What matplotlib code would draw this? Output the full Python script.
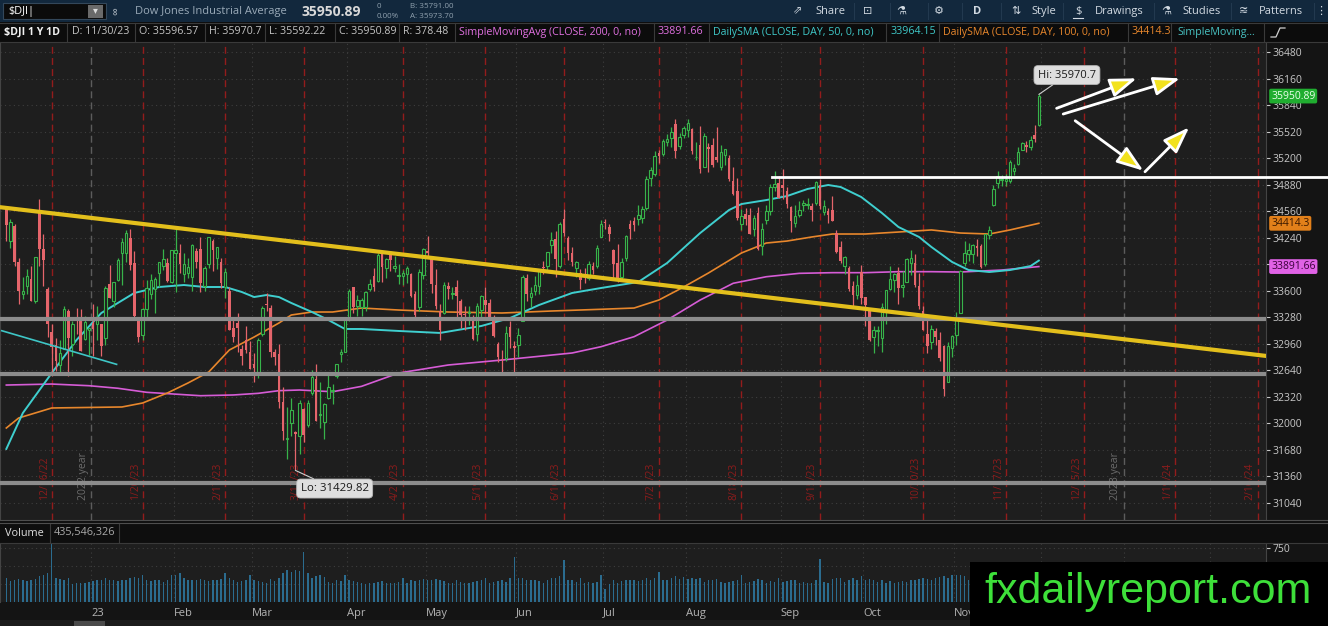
import matplotlib
matplotlib.use("Agg")
import matplotlib.pyplot as plt
from matplotlib.patches import Rectangle
import numpy as np
import pandas as pd

plt.rcParams['font.family'] = ['Open Sans', 'DejaVu Sans']

# $DJI daily candles 12/1/22 .. 11/30/23
opens = [34600,34200,34380,33950,33560,33660,33740,33480,34540,34100,33620,33100,32950,32700,32900,33350,32960,33260,33270,33020,33120,
         33210,33200,33200,33030,33680,33470,33730,34060,34050,34240,33930,33240,33070,33380,33560,33620,33820,33900,33930,33700,
         34050,34050,33800,33820,33760,34080,34100,33660,33920,34200,34000,33950,33640,33600,33150,33210,32900,33010,32860,
         32720,32590,33080,33440,33390,32860,32830,32260,31810,32000,31890,31840,32170,31980,32360,32530,32100,32010,32300,32390,32570,32830,32860,
         33260,33640,33420,33400,33400,33620,33780,33720,34060,33880,34060,33880,33780,33780,33800,33800,33560,33400,33790,
         34080,33990,33670,33360,33330,33660,33560,33650,33480,33320,33330,33270,33080,33370,33490,33450,33270,32960,32780,32790,33160,32930,
         32950,33230,33750,33530,33600,33660,33880,33900,34150,34230,33900,34470,34240,34050,33880,33820,33720,33750,33900,33900,34250,
         34420,34370,34090,33930,33760,33990,34410,34440,34470,34480,34600,34960,35010,35260,35250,35400,35440,35610,35350,35480,
         35540,35550,35210,35360,35100,35340,35360,35220,35100,35240,35200,34920,34800,34400,34530,34510,34340,34540,34140,34460,34560,34850,34900,
         34880,34810,34610,34420,34510,34630,34630,34620,34660,34880,34550,34560,34580,34300,34130,33900,33880,33660,33550,33830,
         33530,33350,33040,33110,33030,33350,33620,33730,33810,33650,33700,33940,33930,33660,33360,33080,32980,33110,33000,32930,32500,32910,
         33060,33330,33940,34040,34040,34140,34140,33920,34270,34640,34900,34940,34920,34930,35050,35130,35300,35360,35330,35480,35596.57]
highs = [34620,34465,34400,34000,33770,33860,33900,34005,34712,34280,33650,33200,33030,33000,33420,33380,33230,33390,33380,33300,33150,
         33440,33410,33200,33660,33910,33710,33990,34240,34330,34340,34080,33280,33390,33730,33800,33760,33950,34100,34000,34090,
         34340,34160,34050,33990,34160,34120,34250,33900,34250,34230,34130,34000,33870,33640,33280,33330,32950,33170,32990,
         32850,33030,33420,33570,33430,32900,32960,32440,32200,32300,31900,32280,32180,32280,32640,32720,32500,32250,32600,32470,32720,32900,33280,
         33620,33640,33550,33510,33600,33740,33870,34050,34080,33990,34080,34020,33920,33850,33900,33820,33600,33860,34120,
         34260,34010,33860,33440,33700,33710,33640,33730,33500,33420,33410,33310,33450,33550,33650,33500,33310,32980,32880,33180,33230,32990,
         33150,33790,33800,33650,33780,33850,33960,34070,34310,34320,34430,34590,34260,34130,33960,33860,33880,33960,33950,34150,34450,
         34470,34410,34100,34160,33990,34270,34450,34490,34630,34620,34990,35090,35290,35300,35430,35490,35580,35680,35510,35590,
         35680,35560,35400,35590,35510,35380,35450,35580,35360,35310,35240,35100,34960,34590,34600,34600,34510,34610,34420,34630,34890,35040,34980,
         35070,34850,34620,34630,34680,34690,34720,34660,34920,34950,34700,34600,34750,34330,34200,34020,33900,33720,33790,33910,
         33530,33390,33180,33170,33450,33610,33900,33810,33890,33840,34000,34090,34040,33820,33410,33250,33190,33150,33100,32950,32980,33060,
         33340,33850,34200,34180,34170,34230,34160,34290,34380,34880,35050,35000,35010,35180,35130,35340,35400,35410,35470,35600,35970.7]
lows = [34200,34120,33900,33440,33500,33560,33470,33450,33900,33660,33040,32570,32630,32580,32900,32570,32810,33080,32870,33010,32820,
        32810,33000,32810,32940,33510,33400,33720,33670,33950,33850,33280,32980,33000,33250,33500,33330,33650,33850,33700,33690,
        33580,33810,33700,33750,33600,33880,33580,33600,33880,33840,33860,33630,33510,33120,32980,32860,32700,32850,32650,
        32500,32540,33050,33360,32800,32700,32180,31800,31570,31850,31429.82,31630,31770,31950,32340,32030,31940,31810,32290,32230,32540,32740,32860,
        33230,33330,33290,33300,33350,33600,33600,33700,33700,33750,33840,33830,33680,33670,33690,33520,33260,33360,33740,
        34000,33570,33380,33000,33320,33500,33500,33280,33150,33120,33190,33000,32990,33280,33330,33250,33040,32740,32590,32750,32910,32590,
        32800,33230,33470,33400,33550,33560,33800,33830,34050,33770,33870,34260,33970,33900,33760,33620,33690,33730,33800,33880,34250,
        34340,34200,33730,33700,33720,33960,34230,34320,34390,34420,34570,34860,34990,35140,35230,35350,35330,35200,35310,35450,
        35460,35250,35180,35020,35100,35030,35100,35150,35060,35120,34920,34760,34460,34330,34390,34280,34260,34090,34030,34400,34520,34810,34720,
        34710,34600,34310,34370,34490,34560,34590,34440,34640,34590,34510,34420,34440,34060,33930,33800,33600,33400,33500,33440,
        33170,32990,32850,32930,32860,33200,33610,33590,33440,33530,33700,33790,33640,33380,33120,32850,32900,32950,32750,32330,32500,32800,
        32950,33330,33900,33960,33940,34020,33870,33900,34220,34620,34840,34860,34860,34900,35000,35120,35300,35280,35300,35400,35592.22]
closes = [34395,34430,33947,33596,33598,33781,33476,34005,34109,33966,33203,32920,32757,32850,33377,33027,33204,33241,32876,33221,33147,
          33136,33270,32930,33631,33518,33704,33973,34190,34303,33911,33297,33045,33375,33629,33734,33744,33949,33978,33717,34086,
          34093,33927,33926,33891,34156,33950,33699,33869,34246,34089,34128,33697,33827,33130,33045,33154,32817,32889,32657,
          32662,33004,33391,33432,32856,32798,32255,31910,31820,32155,31875,32247,31862,32245,32561,32030,32105,32238,32432,32394,32718,32859,33274,
          33601,33402,33483,33485,33587,33685,33646,34030,33887,33987,33977,33897,33787,33809,33876,33531,33302,33826,34098,
          34052,33684,33414,33128,33675,33619,33562,33531,33309,33301,33349,33012,33420,33535,33427,33286,33056,32800,32765,33093,33043,32908,
          33061,33763,33563,33573,33665,33834,33877,34066,34212,33979,34408,34299,34053,33952,33946,33727,33714,33927,33853,34122,34408,
          34418,34288,33922,33735,33944,34262,34347,34395,34509,34586,34952,35061,35225,35228,35411,35438,35520,35283,35459,35560,
          35630,35282,35216,35066,35474,35314,35124,35176,35281,35308,34946,34766,34475,34501,34464,34289,34473,34100,34347,34560,34853,34891,34722,
          34838,34642,34443,34501,34577,34664,34646,34576,34908,34619,34625,34518,34441,34070,33964,34007,33619,33551,33667,33508,
          33433,33002,33129,33120,33408,33605,33740,33805,33631,33671,33985,33998,33666,33415,33127,32937,33141,33036,32785,32418,32929,33053,
          33275,33839,34061,34096,34153,34112,33892,34283,34337,34828,34991,34945,34947,35151,35088,35273,35390,35333,35417,35430,35950.89]
# volume, millions of shares
volume = [330,290,300,320,310,290,300,320,360,380,400,820,330,320,300,330,250,260,270,260,280,
          290,300,310,330,310,300,290,300,300,330,350,330,380,300,290,300,310,280,310,380,
          370,400,330,310,300,310,320,300,290,300,310,320,400,330,300,280,290,300,380,
          300,290,280,270,320,290,330,400,440,420,450,430,700,400,330,360,380,350,280,270,300,290,380,
          310,290,280,270,250,260,270,280,290,270,260,270,280,330,260,300,290,300,320,
          300,310,320,310,290,260,270,300,280,270,260,280,290,300,330,260,280,290,300,280,330,620,
          340,330,300,300,310,290,270,300,330,330,360,580,310,300,280,330,270,280,260,280,370,
          180,250,300,270,290,300,310,300,290,300,340,310,330,420,300,310,330,360,320,350,
          320,330,320,330,280,300,300,320,280,260,280,290,300,380,270,280,290,320,310,260,290,280,330,
          280,290,300,300,260,280,270,270,300,600,280,270,320,330,330,280,310,330,300,360,
          310,320,300,280,300,260,290,270,280,290,280,300,300,320,340,320,310,330,350,360,340,380,
          380,370,360,310,300,280,290,300,260,380,340,330,320,260,240,250,150,260,280,300,435.5]
last_volume = 435546326

# study lines, sampled along the chart (trading day number, value)
sma200_day = [0,11,20,27,34,47,55,61,66,71,79,86,95,107,120,137,144,152,160,168,176,184,192,200,208,216,224,231,241,250]
sma200 = [32461,32473,32453,32422,32373,32332,32341,32361,32393,32401,32380,32445,32606,32703,32763,32848,32924,33045,33246,33488,
          33690,33769,33810,33818,33818,33830,33830,33826,33850,33891.66]
sma50_day = [0,4,11,17,23,31,37,43,48,53,57,60,63,66,69,74,78,82,86,95,105,115,122,129,137,144,153,160,168,175,
             178,184,189,194,199,202,207,212,216,221,224,229,233,238,243,248,250]
sma50 = [31689,32123,32606,33005,33331,33573,33645,33669,33645,33645,33585,33524,33548,33524,33452,33343,33246,33138,33138,33114,
         33090,33174,33271,33428,33573,33633,33705,33935,34297,34575,34647,34695,34743,34829,34877,34853,34732,34539,34370,34249,
         34128,33947,33850,33826,33850,33898,33964.15]
sma100_day = [0,3,11,28,33,39,44,49,54,60,66,69,74,79,86,95,107,120,132,144,152,158,164,170,178,184,189,195,200,208,216,224,231,238,243,250]
sma100 = [31942,32063,32184,32196,32244,32365,32486,32618,32884,33041,33210,33307,33343,33343,33391,33367,33343,33331,33355,33376,
          33391,33488,33645,33814,34056,34176,34200,34249,34285,34285,34309,34334,34297,34285,34334,34414.3]

holidays = ['2022-12-26', '2023-01-02', '2023-01-16', '2023-02-20', '2023-04-07', '2023-05-29', '2023-06-19',
            '2023-07-04', '2023-09-04', '2023-11-23', '2023-12-25', '2024-01-01', '2024-01-15', '2024-02-19']
expiry_dates = ['2022-12-16', '2023-01-20', '2023-02-17', '2023-03-17', '2023-04-21', '2023-05-19', '2023-06-16',
                '2023-07-21', '2023-08-18', '2023-09-15', '2023-10-20', '2023-11-17', '2023-12-15', '2024-01-19', '2024-02-16']

# user drawings
gray_levels = [33255, 32590, 31278]
white_level = 34975
white_from = 185.5
trend_a, trend_b = (0, 34600), (250, 33135)
short_line = ([-1.1, 26.7], [33117, 32711])
arrows = [((254.3, 35803), (273.7, 36165)),
          ((255.9, 35734), (284.2, 36165)),
          ((258.8, 35653), (275.3, 35050)),
          ((275.7, 35037), (286.4, 35574))]

W, H = 1328, 626
fig = plt.figure(figsize=(W / 100, H / 100), dpi=100, facecolor='#141414')


def box(x0, y0, x1, y1):
    return [x0 / W, 1 - y1 / H, (x1 - x0) / W, (y1 - y0) / H]


dates = pd.bdate_range('2022-12-01', '2024-02-29', freq='C', holidays=holidays)
day_of = {d: i for i, d in enumerate(dates)}
n = len(closes)
x = np.arange(n)

bounds, mlabels, year_bounds = [], [], []
for i in range(1, len(dates)):
    if dates[i].month != dates[i - 1].month:
        bounds.append(i - 0.5)
        if dates[i].month == 1:
            mlabels.append(str(dates[i].year)[2:])
            year_bounds.append((i - 0.5, dates[i - 1].year))
        else:
            mlabels.append(dates[i].strftime('%b'))

dot = (0, (1, 3))
grid_c = '#3e3e3e'

# ---- price panel ----
ax = fig.add_axes(box(0, 42, 1266, 520))
ax.set_facecolor('#1e1e1e')
ax.set_xlim(-1.53, 305.0)
ax.set_ylim(30831, 36604)
price_ticks = np.arange(31040, 36481, 320)
ax.yaxis.tick_right()
ax.set_yticks(price_ticks, [str(p) if p != 33920 else '' for p in price_ticks])
ax.tick_params(axis='y', colors='#c8c8c8', labelsize=7.5, length=3, pad=2, width=0.8)
ax.tick_params(axis='x', bottom=False, labelbottom=False)
for s in ['top', 'bottom']:
    ax.spines[s].set_visible(False)
for s in ['left', 'right']:
    ax.spines[s].set_color('#444444')

for p in price_ticks:
    ax.axhline(p, color=grid_c, lw=0.8, ls=dot, zorder=0)
year_x = [b for b, _ in year_bounds]
for b in bounds:
    if b not in year_x:
        ax.axvline(b, color=grid_c, lw=0.8, ls=dot, zorder=0)

for d in expiry_dates:
    t = pd.Timestamp(d)
    xi = day_of[t]
    ax.axvline(xi, color='#931c1c', lw=1, ls=(0, (5, 3)), zorder=1)
    ax.text(xi - 0.5, 31075, f"{t.month}/{t.day}/{t:%y}", rotation=90, ha='right', va='bottom',
            fontsize=7.5, color='#8c1c1c', zorder=1)
for b, yr in year_bounds:
    ax.axvline(b, color='#5c5c5c', lw=1, ls=(0, (5, 3)), zorder=1)
    ax.text(b - 0.5, 31075, f"{yr} year", rotation=90, ha='right', va='bottom',
            fontsize=7.5, color='#6c6c6c', zorder=1)

ax.plot(sma200_day, sma200, color='#d65cd6', lw=1.2, zorder=2)
ax.plot(sma100_day, sma100, color='#e8872c', lw=1.2, zorder=2)
ax.plot(sma50_day, sma50, color='#3fcfcf', lw=1.4, zorder=2)

o, hi, lo, c = map(np.array, (opens, highs, lows, closes))
up = c >= o
up_c, dn_c = '#37b34a', '#e5656b'
ax.vlines(x, lo, hi, colors=np.where(up, up_c, dn_c), lw=0.9, zorder=3)
body_lo = np.minimum(o, c)
body_h = np.maximum(np.abs(c - o), 8)
ax.bar(x[up], body_h[up], bottom=body_lo[up], width=0.62, facecolor='#1e1e1e', edgecolor=up_c, lw=0.8, zorder=4)
ax.bar(x[~up], body_h[~up], bottom=body_lo[~up], width=0.62, color=dn_c, lw=0, zorder=4)

for lv in gray_levels:
    ax.axhline(lv, color='#8c8c8c', lw=3, zorder=5)
ax.axline(trend_a, trend_b, color='#e3bf1c', lw=3, zorder=5)
ax.plot(*short_line, color='#3ec6c6', lw=1.2, zorder=5)
ax.plot([white_from, 330], [white_level, white_level], color='white', lw=2, zorder=5, clip_on=False)

for (x0, y0), (x1, y1) in arrows:
    ax.annotate('', xy=(x1, y1), xytext=(x0, y0), zorder=6,
                arrowprops=dict(arrowstyle='-|>,head_length=0.9,head_width=0.32', lw=2, ec='white',
                                fc='#f2e21e', mutation_scale=18, shrinkA=0, shrinkB=0))

lbl_box = dict(boxstyle='round,pad=0.35', fc='#dedede', ec='#b8b8b8', lw=0.6)
ax.annotate(f"Hi: {max(highs)}", xy=(int(np.argmax(hi)), max(highs)), xytext=(256.8, 36205),
            ha='center', va='center', fontsize=8, color='#1a1a1a', bbox=lbl_box, zorder=7,
            arrowprops=dict(arrowstyle='-', color='#cfcfcf', lw=0.8, shrinkA=0, shrinkB=0))
ax.annotate(f"Lo: {min(lows)}", xy=(int(np.argmin(lo)), min(lows)), xytext=(79.5, 31211),
            ha='center', va='center', fontsize=8.2, color='#1a1a1a', bbox=lbl_box, zorder=7,
            arrowprops=dict(arrowstyle='-', color='#cfcfcf', lw=0.8, shrinkA=0, shrinkB=0))

tr = ax.get_yaxis_transform()
for val, txt, fc, tc in [(closes[-1], f"{closes[-1]}", '#20ad30', '#eaffea'),
                         (sma100[-1], f"{sma100[-1]}", '#e2801a', '#3a1800'),
                         (sma200[-1], f"{sma200[-1]}", '#e062e6', '#3a003a')]:
    ax.text(1.004, val, txt, transform=tr, ha='left', va='center', fontsize=7.5, color=tc, clip_on=False,
            bbox=dict(boxstyle='round,pad=0.18', fc=fc, ec='none'), zorder=8)

# ---- volume panel ----
axv = fig.add_axes(box(0, 543, 1266, 602))
axv.set_facecolor('#1e1e1e')
axv.set_xlim(ax.get_xlim())
axv.set_ylim(0, 819)
axv.bar(x, volume, width=0.35, color='#2b6c8f', zorder=2)
for v in (250, 500, 750):
    axv.axhline(v, color=grid_c, lw=0.8, ls=dot, zorder=0)
for b in bounds:
    axv.axvline(b, color=grid_c, lw=0.8, ls=dot, zorder=0)
axv.yaxis.tick_right()
axv.set_yticks([750])
axv.tick_params(axis='y', colors='#c8c8c8', labelsize=7.5, length=3, pad=2, width=0.8)
shown = [(b, m) for b, m in zip(bounds, mlabels) if b < n - 1]
axv.set_xticks([b for b, _ in shown], [m for _, m in shown])
for t in axv.get_xticklabels():
    t.set_ha('left')
axv.tick_params(axis='x', length=0, pad=4, colors='#b4b4b4', labelsize=8)
for s in ['top', 'bottom']:
    axv.spines[s].set_visible(False)
for s in ['left', 'right']:
    axv.spines[s].set_color('#444444')

# ---- frame: toolbar, study legend, volume header, watermark ----
ov = fig.add_axes([0, 0, 1, 1], zorder=10)
ov.set_xlim(0, W)
ov.set_ylim(H, 0)
ov.axis('off')
ov.patch.set_alpha(0)


def rect(x0, y0, x1, y1, **kw):
    ov.add_patch(Rectangle((x0, y0), x1 - x0, y1 - y0, **kw))


rect(0, 0, W, 22, fc='#12283d', ec='none')
rect(0, 22, W, 42, fc='#0c0c0c', ec='none')
ov.plot([0, W], [22.5, 22.5], color='#3a3a3a', lw=0.8)
ov.plot([0, W], [41.5, 41.5], color='#3a3a3a', lw=0.8)

# toolbar
rect(3, 3, 106, 19, fc='#0b0b0b', ec='#33475a', lw=0.8)
ov.text(8, 11.5, '$DJI|', color='white', fontsize=7.8, va='center')
rect(88, 4.5, 103, 17.5, fc='#6a6a6a', ec='none')
ov.text(95.5, 11, '▾', color='#dddddd', fontsize=7, ha='center', va='center')
ov.text(117, 11, '∞', rotation=90, color='#c0c8d0', fontsize=8, ha='center', va='center')
ov.text(135, 11.5, 'Dow Jones Industrial Average', color='#9aaab8', fontsize=8, va='center')
ov.text(302, 11.5, f"{closes[-1]}", color='#d8d8d8', fontsize=10, fontweight='bold', va='center')
ov.text(377, 6.5, '0', color='#8fa0ae', fontsize=5.8, va='center')
ov.text(377, 16, '0.00%', color='#8fa0ae', fontsize=5.8, va='center')
ov.text(410, 6.5, 'B: 35791.00', color='#8fa0ae', fontsize=5.8, va='center')
ov.text(410, 16, 'A: 35973.70', color='#8fa0ae', fontsize=5.8, va='center')
tb = '#d2dae2'
for xx, s, kw in [(798, '⇗', {}), (815, 'Share', {}), (868, '⊡', {}), (901, '⚗', {}), (939, '⚙', {}),
                  (977, 'D', {'fontweight': 'bold'}), (1016, '⇅', {}), (1031, 'Style', {}),
                  (1078, '$', {}), (1095, 'Drawings', {}), (1166, '⚗', {}), (1182, 'Studies', {}),
                  (1243, '≋', {}), (1259, 'Patterns', {}), (1321, '⋮', {})]:
    ov.text(xx, 11.5, s, color=tb, fontsize=8, va='center', ha='left' if len(s) > 1 else 'center', **kw)
ov.plot([1073, 1083], [18, 18], color=tb, lw=0.8)
for xx in [854, 890, 928, 962, 1001, 1063, 1154, 1231, 1314]:
    ov.plot([xx, xx], [3, 19], color='#22394f', lw=0.8)

# study legend row
legend_cells = [(4, '$DJI 1 Y 1D', '#f0f0f0', 'bold'), (72, 'D: 11/30/23', '#c4c4c4', 'normal'),
                (139, f"O: {opens[-1]}", '#c4c4c4', 'normal'), (209, f"H: {highs[-1]}", '#c4c4c4', 'normal'),
                (269, f"L: {lows[-1]}", '#c4c4c4', 'normal'), (339, f"C: {closes[-1]}", '#c4c4c4', 'normal'),
                (403, 'R: 378.48', '#c4c4c4', 'normal'),
                (459, 'SimpleMovingAvg (CLOSE, 200, 0, no)', '#e070e0', 'normal'),
                (657, f"{sma200[-1]}", '#e070e0', 'normal'),
                (713, 'DailySMA (CLOSE, DAY, 50, 0, no)', '#3fc8c8', 'normal'),
                (890, f"{sma50[-1]}", '#3fc8c8', 'normal'),
                (943, 'DailySMA (CLOSE, DAY, 100, 0, no)', '#e8872c', 'normal'),
                (1131, f"{sma100[-1]}", '#e8872c', 'normal'),
                (1177, 'SimpleMoving...', '#48c2c2', 'normal')]
for xx, s, col, wt in legend_cells:
    ov.text(xx, 32, s, color=col, fontsize=7.7, fontweight=wt, va='center')
for xx in [67, 135, 205, 265, 335, 399, 455, 654, 709, 886, 939, 1128, 1171, 1264]:
    ov.plot([xx, xx], [23, 41], color='#3a3a3a', lw=0.8)
ov.plot([1271, 1276, 1280, 1285], [37, 37, 28, 28], color='#d0d0d0', lw=0.9)

# separator and volume header
rect(0, 520, W, 543, fc='#0e0e0e', ec='none')
ov.plot([0, W], [520, 520], color='#4e4e4e', lw=0.8)
ov.plot([0, W], [523, 523], color='#4e4e4e', lw=0.8)
ov.plot([0, W], [543, 543], color='#3a3a3a', lw=0.8)
ov.text(5, 533, 'Volume', color='#e0e0e0', fontsize=7.8, va='center')
ov.text(54, 533, f"{last_volume:,}", color='#a8a8a8', fontsize=7.8, va='center')
for xx in [50, 119]:
    ov.plot([xx, xx], [524, 542], color='#3a3a3a', lw=0.8)

# scrollbar strip
rect(0, 620, W, 626, fc='#1b1b1b', ec='none')
rect(74, 621, 105, 626, fc='#4a4a4a', ec='none')

# watermark
rect(970, 562, W, H, fc='black', ec='none')
ov.text(1148, 592, 'fxdailyreport.com', color='#3ee03a', fontsize=31, family='Liberation Sans',
        ha='center', va='center')

fig.savefig('out.png', dpi=100, facecolor=fig.get_facecolor())
